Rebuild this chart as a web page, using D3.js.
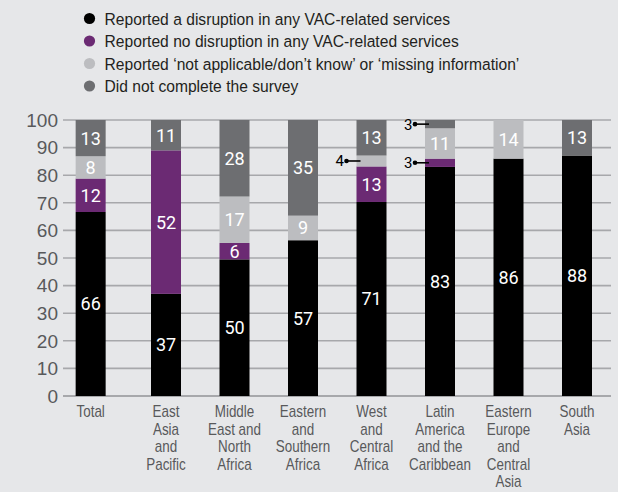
<!DOCTYPE html>
<html>
<head>
<meta charset="utf-8">
<script src="https://cdn.jsdelivr.net/npm/d3@7"></script>
<style>
  html, body { margin: 0; padding: 0; background: #e6e7e9; }
  svg { display: block; }
</style>
</head>
<body>
<svg id="chart"></svg>
<script>
(function () {
  "use strict";

  const categories = [
    "Total",
    "East Asia and Pacific",
    "Middle East and North Africa",
    "Eastern and Southern Africa",
    "West and Central Africa",
    "Latin America and the Caribbean",
    "Eastern Europe and Central Asia",
    "South Asia",
  ];
  const categoryLines = [
    ["Total"],
    ["East", "Asia", "and", "Pacific"],
    ["Middle", "East and", "North", "Africa"],
    ["Eastern", "and", "Southern", "Africa"],
    ["West", "and", "Central", "Africa"],
    ["Latin", "America", "and the", "Caribbean"],
    ["Eastern", "Europe", "and", "Central", "Asia"],
    ["South", "Asia"],
  ];

  const disrupted = [66, 37, 50, 57, 71, 83, 86, 88];
  const notDisrupted = [12, 52, 6, 0, 13, 3, 0, 0];
  const notApplicable = [8, 0, 17, 9, 4, 11, 14, 0];
  const didNotComplete = [13, 11, 28, 35, 13, 3, 0, 13];

  const seriesKeys = ["disrupted", "notDisrupted", "notApplicable", "didNotComplete"];
  const seriesLabels = [
    "Reported a disruption in any VAC-related services",
    "Reported no disruption in any VAC-related services",
    "Reported \u2018not applicable/don\u2019t know\u2019 or \u2018missing information\u2019",
    "Did not complete the survey",
  ];
  const seriesColors = ["#000000", "#6b2a73", "#bcbdc0", "#6d6e71"];

  const yTicks = [0, 10, 20, 30, 40, 50, 60, 70, 80, 90, 100];

  const width = 618;
  const height = 492;
  const textFont = "'Liberation Sans', Arial, sans-serif";
  const numFont = "Roboto, 'Liberation Sans', sans-serif";
  const squeeze = 0.84;

  const rows = categories.map((c, i) => ({
    category: c,
    lines: categoryLines[i],
    disrupted: disrupted[i],
    notDisrupted: notDisrupted[i],
    notApplicable: notApplicable[i],
    didNotComplete: didNotComplete[i],
  }));

  const svg = d3.select("#chart").attr("width", width).attr("height", height);
  svg.append("rect").attr("width", width).attr("height", height).attr("fill", "#e6e7e9");

  // legend
  const legend = svg.append("g");
  const legendY = d3.scalePoint().domain(seriesKeys).range([18.5, 86]);
  seriesKeys.forEach((key, i) => {
    const g = legend.append("g").attr("transform", `translate(0,${legendY(key)})`);
    g.append("circle").attr("cx", 89.5).attr("cy", 0).attr("r", 5.6).attr("fill", seriesColors[i]);
    g.append("text")
      .attr("transform", `translate(104.5,0) scale(0.92,1)`)
      .attr("dy", "0.36em")
      .attr("font-family", textFont)
      .attr("font-size", 17)
      .attr("fill", "#231f20")
      .text(seriesLabels[i]);
  });

  // scales
  const y = d3.scaleLinear().domain([0, 1]).range([396, 120]);
  const xRegions = d3.scalePoint().domain(categories.slice(1)).range([166, 577]);
  const cx = (c) => (c === categories[0] ? xRegions(categories[1]) - xRegions.step() * 1.1 : xRegions(c));
  const barWidth = 30;

  // grid + y labels
  const grid = svg.append("g");
  grid.selectAll("line")
    .data(yTicks)
    .join("line")
    .attr("x1", 63)
    .attr("x2", 611)
    .attr("y1", (d) => y(d / 100))
    .attr("y2", (d) => y(d / 100))
    .attr("stroke", "#a7a8ab")
    .attr("stroke-width", (d) => (d === 0 ? 2 : 1.6));
  grid.selectAll("text")
    .data(yTicks)
    .join("text")
    .attr("x", 58)
    .attr("y", (d) => y(d / 100))
    .attr("dy", "0.36em")
    .attr("text-anchor", "end")
    .attr("font-family", textFont)
    .attr("font-size", 19)
    .attr("fill", "#58595b")
    .text((d) => d);

  // stacked bars
  const stack = d3.stack().keys(seriesKeys).offset(d3.stackOffsetExpand);
  const stacked = stack(rows);

  const barLayer = svg.append("g");
  stacked.forEach((layer, li) => {
    const g = barLayer.append("g").attr("fill", seriesColors[li]);
    g.selectAll("rect")
      .data(layer.filter((d) => d.data[layer.key] > 0))
      .join("rect")
      .attr("x", (d) => cx(d.data.category) - barWidth / 2)
      .attr("width", barWidth)
      .attr("y", (d) => y(d[1]))
      .attr("height", (d) => y(d[0]) - y(d[1]));
  });

  // value labels
  const labelLayer = svg.append("g").attr("font-family", numFont);
  stacked.forEach((layer) => {
    layer.forEach((d) => {
      const v = d.data[layer.key];
      if (v <= 0) return;
      const x0 = cx(d.data.category);
      const ym = y((d[0] + d[1]) / 2);
      if (v >= 5) {
        labelLayer.append("text")
          .attr("x", x0)
          .attr("y", ym)
          .attr("dy", "0.36em")
          .attr("text-anchor", "middle")
          .attr("font-size", 18)
          .attr("fill", "#ffffff")
          .text(v);
      } else {
        const left = x0 - barWidth / 2;
        labelLayer.append("line")
          .attr("x1", left - 10)
          .attr("x2", left + 4)
          .attr("y1", ym)
          .attr("y2", ym)
          .attr("stroke", "#000")
          .attr("stroke-width", 1.6);
        labelLayer.append("circle")
          .attr("cx", left - 10)
          .attr("cy", ym)
          .attr("r", 2.3)
          .attr("fill", "#000");
        labelLayer.append("text")
          .attr("x", left - 12.5)
          .attr("y", ym)
          .attr("dy", "0.36em")
          .attr("text-anchor", "end")
          .attr("font-size", 15)
          .attr("fill", "#000")
          .text(v);
      }
    });
  });

  // x labels
  const xLabels = svg.append("g");
  rows.forEach((r) => {
    const g = xLabels.append("g").attr("transform", `translate(${cx(r.category)},0)`);
    r.lines.forEach((line, i) => {
      g.append("text")
        .attr("transform", `translate(0,${417 + i * 17.6}) scale(${squeeze},1)`)
        .attr("text-anchor", "middle")
        .attr("font-family", textFont)
        .attr("font-size", 16)
        .attr("fill", "#58595b")
        .text(line);
    });
  });
})();
</script>
</body>
</html>
